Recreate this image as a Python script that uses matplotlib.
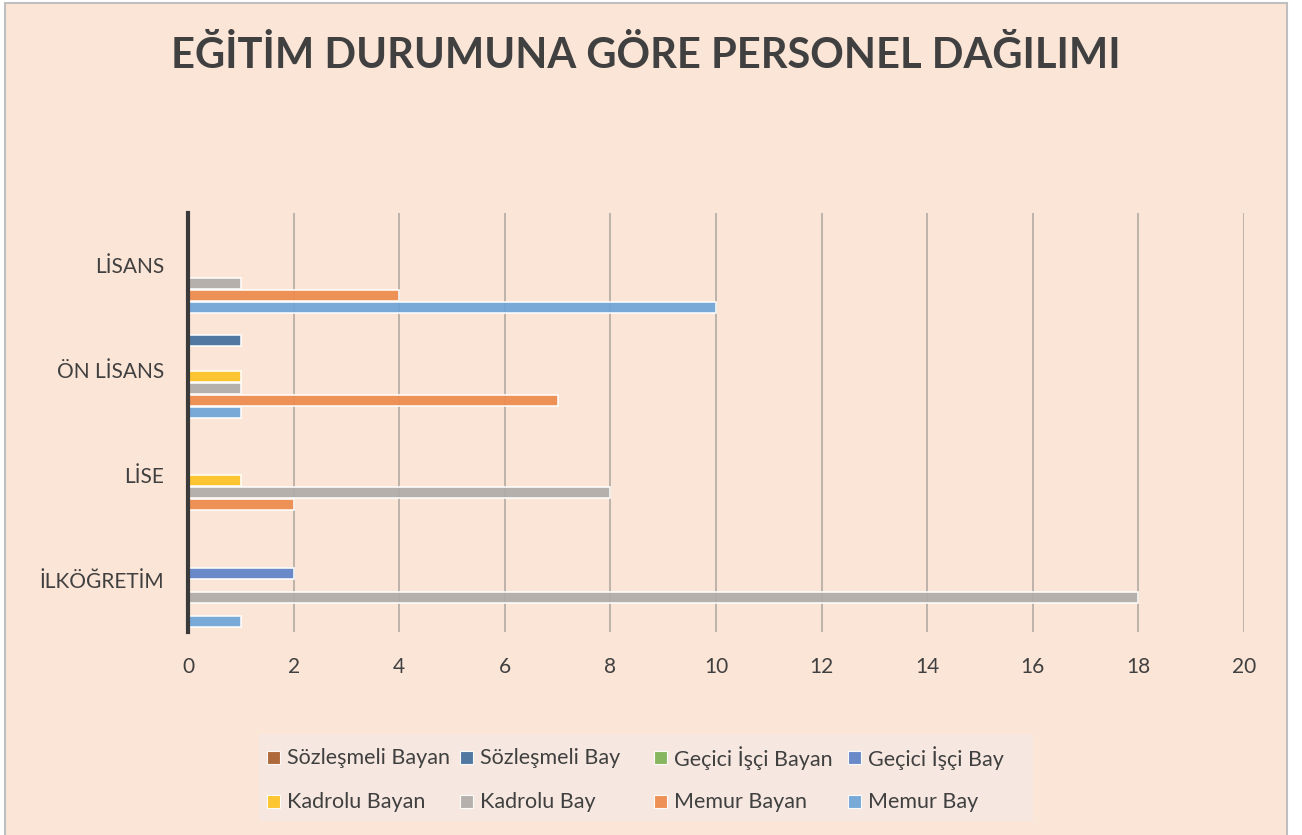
import matplotlib
matplotlib.use("Agg")
import matplotlib.pyplot as plt
from matplotlib.patches import Rectangle
import numpy as np

categories = ["İLKÖĞRETİM", "LİSE", "ÖN LİSANS", "LİSANS"]
series_names = ["Memur Bay", "Memur Bayan", "Kadrolu Bay", "Kadrolu Bayan",
                "Geçici İşçi Bay", "Geçici İşçi Bayan", "Sözleşmeli Bay", "Sözleşmeli Bayan"]
memur_bay = [1, 0, 1, 10]
memur_bayan = [0, 2, 7, 4]
kadrolu_bay = [18, 8, 1, 1]
kadrolu_bayan = [0, 1, 1, 0]
gecici_bay = [2, 0, 0, 0]
gecici_bayan = [0, 0, 0, 0]
sozlesmeli_bay = [0, 0, 1, 0]
sozlesmeli_bayan = [0, 0, 0, 0]
series_values = [memur_bay, memur_bayan, kadrolu_bay, kadrolu_bayan,
                 gecici_bay, gecici_bayan, sozlesmeli_bay, sozlesmeli_bayan]
colors = ["#6FA5D7", "#EE8B4C", "#B0ACA8", "#FEC324",
          "#5E82C8", "#7FB356", "#44709D", "#A9602E"]
x_ticks = [0, 2, 4, 6, 8, 10, 12, 14, 16, 18, 20]

FONT = ["Lato", "DejaVu Sans"]
plt.rcParams["font.family"] = FONT
TXT = "#404040"
BG = "#FBE5D7"

W, H = 1302, 835
fig = plt.figure(figsize=(W / 100, H / 100), dpi=100)
fig.patch.set_facecolor("white")


def fx(px):
    return px / W


def fy(py):
    return 1 - py / H


# chart area background with border
fig.patches.append(Rectangle((fx(5), -0.01), fx(1287 - 5), 1.01 - 3 / H,
                             transform=fig.transFigure, facecolor=BG,
                             edgecolor="#BFBFBF", linewidth=1.5, zorder=-10))

ax = fig.add_axes([fx(188), fy(632), fx(1244 - 188), (632 - 213) / H])
ax.patch.set_alpha(0)

n = len(series_names)
slot = 0.1146
y = np.arange(len(categories))
for j, (vals, col) in enumerate(zip(series_values, colors)):
    lw = [0 if v == 0 else 1.2 for v in vals]
    ax.barh(y + (j - (n - 1) / 2) * slot, vals, height=slot * 0.93, color=col,
            edgecolor="#FFFFFF", linewidth=lw, alpha=0.93, zorder=3)

ax.set_xlim(0, 20)
ax.set_ylim(-0.5, len(categories) - 0.5)
ax.set_xticks(x_ticks)
ax.set_xticklabels([str(t) for t in x_ticks])
ax.set_yticks(y)
ax.set_yticklabels(categories)
ax.tick_params(axis="both", length=0, labelsize=15, colors=TXT)
ax.tick_params(axis="x", pad=18)
ax.tick_params(axis="y", pad=17)
ax.grid(axis="x", color="#B3ABA4", linewidth=1.2, zorder=1)
ax.grid(axis="y", visible=False)
for s in ["top", "right", "bottom"]:
    ax.spines[s].set_visible(False)
ax.spines["left"].set_color("#3A3A3A")
ax.spines["left"].set_linewidth(3)
ax.spines["left"].set_zorder(5)

fig.text(fx(646), fy(56), "EĞİTİM DURUMUNA GÖRE PERSONEL DAĞILIMI",
         ha="center", va="center", fontsize=30, fontweight="bold", color=TXT)

# legend drawn as fixed-width Excel-style grid
fig.patches.append(Rectangle((fx(259), fy(821)), fx(1033 - 259), (821 - 734) / H,
                             transform=fig.transFigure, facecolor="#F6E8E0",
                             edgecolor="none", zorder=1))
row1 = ["Sözleşmeli Bayan", "Sözleşmeli Bay", "Geçici İşçi Bayan", "Geçici İşçi Bay"]
row2 = ["Kadrolu Bayan", "Kadrolu Bay", "Memur Bayan", "Memur Bay"]
col_x = [267, 460, 654, 848]
row_y = [757, 801]
for r, names in enumerate([row1, row2]):
    for c, nm in enumerate(names):
        col = colors[series_names.index(nm)]
        fig.patches.append(Rectangle((fx(col_x[c]), fy(row_y[r] + 6.5)), fx(13), 13 / H,
                                     transform=fig.transFigure, facecolor=col,
                                     edgecolor="#FFFFFF", linewidth=0.8, alpha=0.93,
                                     zorder=2))
        fig.text(fx(col_x[c] + 20), fy(row_y[r] + 1), nm, ha="left", va="center",
                 fontsize=15.5, color=TXT, zorder=3)

fig.savefig("out.png", dpi=100, facecolor=fig.get_facecolor())
